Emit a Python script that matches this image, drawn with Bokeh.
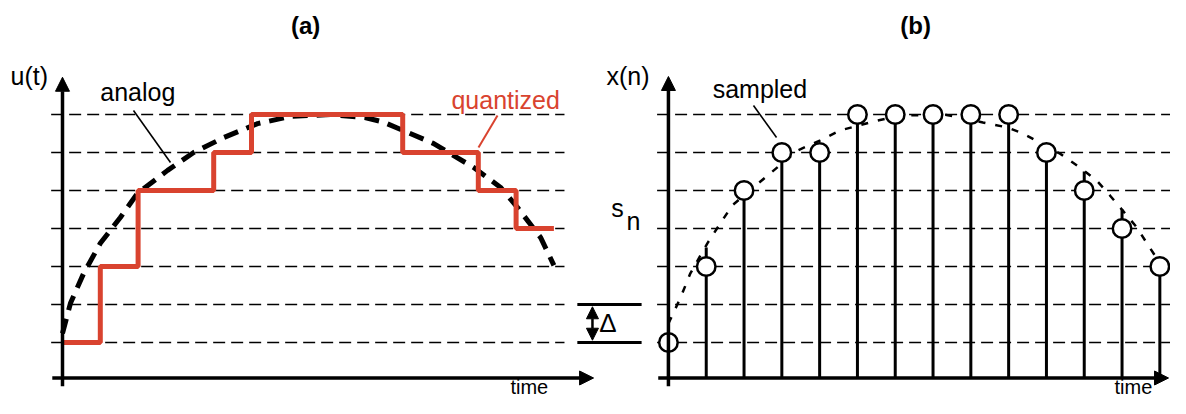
from bokeh.plotting import figure
from bokeh.models import Range1d, Label, Arrow, NormalHead
from bokeh.embed import file_html
from bokeh.resources import INLINE

# ---------------- data (time in sample units, amplitude in quantization levels) ----
levels = [0, 1, 2, 3, 4, 5, 6]

# (a) analog curve
analog_t = [0, 0.21, 0.56, 1.0, 1.53, 1.98, 2.78, 3.47, 4.26, 5.16, 6.03, 7.09,
            8.0, 8.49, 9.81, 10.87, 11.59, 12.04, 12.65, 13.0]
analog_u = [0.24, 1.03, 1.82, 2.61, 3.29, 3.92, 4.53, 5.0, 5.39, 5.76, 5.95, 6.0,
            5.92, 5.8, 5.24, 4.61, 4.08, 3.55, 2.76, 2.03]

# (a) quantized (sample and hold) levels, held from t to t+1
quant_t = [0, 1, 2, 3, 4, 5, 6, 7, 8, 9, 10, 11, 12, 13]
quant_u = [0, 2, 4, 4, 5, 6, 6, 6, 6, 5, 5, 4, 3, 3]

# (b) analog curve
bcurve_n = [0, 0.32, 0.58, 1.03, 1.37, 1.69, 2.56, 3.41, 4.02, 4.54, 5.52, 6.13,
            7.3, 8.32, 8.96, 9.38, 10.36, 10.88, 11.33, 11.68, 12.02, 12.39, 12.73, 12.87]
bcurve_x = [0.5, 1.18, 1.82, 2.61, 3.13, 3.61, 4.34, 5.05, 5.32, 5.58, 5.84, 5.97,
            6.0, 5.79, 5.66, 5.5, 4.97, 4.61, 4.26, 3.87, 3.47, 3.03, 2.5, 2.29]

# (b) sampled & quantized values
samp_n = [0, 1, 2, 3, 4, 5, 6, 7, 8, 9, 10, 11, 12, 13]
samp_x = [0, 2, 4, 5, 5, 6, 6, 6, 6, 6, 5, 4, 3, 2]
stem_top = [0, 2.5, 4, 5, 5, 6, 6, 6, 6, 6, 5, 4.5, 3.5, 2]

# ---------------- layout constants ----------------
B0 = 16.03          # horizontal origin of panel (b)
AXIS_Y = -0.934     # level of the time axes
RED = "#d9432f"
FONT = "Liberation Sans"

p = figure(width=1170, height=398,
           x_range=Range1d(-1.6402, 29.312), y_range=Range1d(-1.4737, 9.0),
           output_backend="svg", toolbar_location=None, min_border=0)
p.axis.visible = False
p.xgrid.visible = False
p.ygrid.visible = False
p.outline_line_color = None
p.background_fill_color = "white"
p.border_fill_color = "white"

# dashed quantization levels
for off in (0, B0):
    p.segment(x0=[off - 0.3] * len(levels), y0=levels,
              x1=[off + 13.28] * len(levels), y1=levels,
              line_color="black", line_width=1.5, line_dash="12 6")

# (a) analog curve and quantized staircase
p.line(analog_t, analog_u, line_color="black", line_width=5, line_dash="15 9")
p.step(quant_t, quant_u, mode="after", line_color=RED, line_width=5)

# (b) analog dotted curve, stems and sample circles
p.line([n + B0 for n in bcurve_n], bcurve_x, line_color="black", line_width=2.5,
       line_dash="7 10")
bx = [n + B0 for n in samp_n]
p.segment(x0=bx, y0=[AXIS_Y] * len(bx), x1=bx, y1=stem_top,
          line_color="black", line_width=3)
p.scatter(bx, samp_x, marker="circle", size=18.5, fill_color="white",
          line_color="black", line_width=2.5)

# axes with arrow heads
def axis_arrow(x0, y0, x1, y1):
    p.add_layout(Arrow(start=None,
                       end=NormalHead(size=14, fill_color="black", line_color="black"),
                       x_start=x0, y_start=y0, x_end=x1, y_end=y1,
                       line_color="black", line_width=3.5))

axis_arrow(0, -1.15, 0, 6.98)
axis_arrow(-0.27, AXIS_Y, 14.05, AXIS_Y)
axis_arrow(B0, -1.15, B0, 7.0)
axis_arrow(B0 - 0.27, AXIS_Y, 29.26, AXIS_Y)

# delta annotation
p.segment(x0=[13.62, 13.62], y0=[0, 1], x1=[15.32, 15.32], y1=[0, 1],
          line_color="black", line_width=3)
p.add_layout(Arrow(start=NormalHead(size=12, fill_color="black", line_color="black"),
                   end=NormalHead(size=12, fill_color="black", line_color="black"),
                   x_start=14.02, y_start=0.06, x_end=14.02, y_end=0.94,
                   line_color="black", line_width=2.5))

# leader lines
p.line([1.878, 2.857], [6.105, 4.737], line_color="black", line_width=1.6)
p.line([11.508, 11.005], [5.974, 5.132], line_color=RED, line_width=2)
p.line([B0 + 2.25, B0 + 2.86], [6.237, 5.395], line_color="black", line_width=1.6)

def label(x, y, text, size="25px", color="black", style="normal", align="left",
          baseline="middle"):
    p.add_layout(Label(x=x, y=y, text=text, text_font=FONT, text_font_size=size,
                       text_color=color, text_font_style=style, text_align=align,
                       text_baseline=baseline))

label(6.43, 8.34, "(a)", size="24px", style="bold", align="center")
label(B0 + 6.54, 8.34, "(b)", size="24px", style="bold", align="center")
label(-1.376, 7.0, "u(t)")
label(1.0, 6.58, "analog")
label(10.29, 6.37, "quantized", color=RED)
label(11.85, -1.158, "time", size="20px")
label(14.39, 7.0, "x(n)")
label(B0 + 1.17, 6.68, "sampled")
label(14.52, 3.55, "s")
label(14.92, 3.21, "n")
label(14.2, 0.5, "Δ", size="26px")
label(B0 + 11.8, -1.158, "time", size="20px")

open("out.html", "w").write(file_html(p, INLINE))
